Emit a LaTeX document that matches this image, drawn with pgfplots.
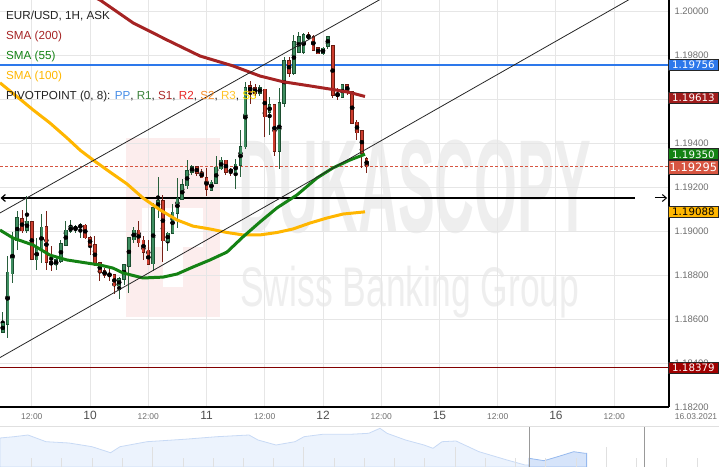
\documentclass[border=0pt]{standalone}
\usepackage{pgfplots}
\pgfplotsset{compat=1.18}
\usepackage{pgfplotstable}
\usepackage{fontspec}
\setmainfont{Liberation Sans}
\newfontfamily\dejavu{DejaVu Sans}
\usetikzlibrary{arrows.meta}

\definecolor{gfill}{RGB}{62,142,96}
\definecolor{gdark}{RGB}{28,78,48}
\definecolor{gwick}{RGB}{40,95,60}
\definecolor{rfill}{RGB}{205,60,45}
\definecolor{rdark}{RGB}{105,28,18}
\definecolor{rwick}{RGB}{120,32,22}
\definecolor{smaA}{RGB}{165,35,35}
\definecolor{smaB}{RGB}{20,130,20}
\definecolor{smaC}{RGB}{255,182,0}
\definecolor{gridc}{RGB}{230,230,230}
\definecolor{tickc}{RGB}{110,110,110}
\definecolor{dayc}{RGB}{80,80,80}
\definecolor{lvlblue}{RGB}{45,120,235}
\definecolor{lvlred}{RGB}{215,85,65}
\definecolor{lvldark}{RGB}{130,0,0}
\definecolor{wmpink}{RGB}{252,237,237}
\definecolor{wmgray}{RGB}{238,238,238}
\definecolor{navfill}{RGB}{236,243,253}
\definecolor{navline}{RGB}{200,218,245}
\definecolor{navwin}{RGB}{214,228,250}
\definecolor{navwinline}{RGB}{150,185,238}
\definecolor{ppc}{RGB}{70,140,230}
\definecolor{ronec}{RGB}{60,130,60}
\definecolor{sonec}{RGB}{170,40,40}
\definecolor{rtwoc}{RGB}{230,40,40}
\definecolor{stwoc}{RGB}{245,140,40}
\definecolor{rthreec}{RGB}{255,195,40}
\definecolor{sthreec}{RGB}{255,225,0}
\definecolor{lgblack}{RGB}{34,34,34}

% hourly candles, t = hours from 10 Mar 00:00
\pgfplotstableread{
t o hi lo c
-18 1.18540 1.18631 1.18537 1.18580
-17 1.18576 1.18887 1.18514 1.18813
-16 1.18808 1.18998 1.18766 1.18968
-15 1.18960 1.19094 1.18914 1.19059
-13 1.19005 1.19160 1.18991 1.19046
-11 1.18872 1.18968 1.18826 1.18920
-10 1.18917 1.19077 1.18854 1.19017
-7 1.18848 1.18884 1.18826 1.18869
-6 1.18866 1.18960 1.18854 1.18945
-5 1.18938 1.19048 1.18936 1.19005
-4 1.19000 1.19051 1.18991 1.19020
-3 1.19010 1.19028 1.18991 1.19020
-2 1.19016 1.19040 1.18968 1.19028
6 1.18752 1.18793 1.18691 1.18782
7 1.18782 1.18854 1.18755 1.18849
8 1.18843 1.18975 1.18720 1.18971
9 1.18963 1.19020 1.18945 1.19005
13 1.18854 1.19128 1.18819 1.19109
14 1.19107 1.19249 1.19059 1.19139
16 1.18957 1.18998 1.18911 1.18991
17 1.18991 1.19123 1.18988 1.19086
18 1.19082 1.19241 1.19017 1.19149
19 1.19146 1.19237 1.19142 1.19211
20 1.19207 1.19324 1.19195 1.19274
21 1.19268 1.19301 1.19256 1.19294
25 1.19188 1.19234 1.19184 1.19223
26 1.19218 1.19343 1.19215 1.19291
27 1.19286 1.19337 1.19278 1.19324
30 1.19271 1.19328 1.19192 1.19305
31 1.19301 1.19461 1.19248 1.19384
32 1.19384 1.19680 1.19374 1.19651
35 1.19629 1.19666 1.19615 1.19652
37 1.19541 1.19612 1.19437 1.19574
39 1.19365 1.19651 1.19283 1.19586
40 1.19583 1.19794 1.19567 1.19775
42 1.19719 1.19893 1.19711 1.19863
43 1.19817 1.19908 1.19809 1.19886
44 1.19814 1.19905 1.19809 1.19893
48 1.19809 1.19840 1.19805 1.19832
49 1.19844 1.19886 1.19829 1.19886
52 1.19612 1.19669 1.19607 1.19666
}\candUp

\pgfplotstableread{
t o hi lo c
-14 1.19059 1.19097 1.18991 1.19005
-12 1.19043 1.19043 1.18869 1.18872
-9 1.19020 1.19092 1.18826 1.18859
-8 1.18860 1.18933 1.18820 1.18848
-1 1.19028 1.19033 1.18966 1.18972
0 1.18972 1.18978 1.18891 1.18936
1 1.18938 1.18978 1.18842 1.18849
2 1.18857 1.18861 1.18775 1.18813
3 1.18819 1.18831 1.18786 1.18800
4 1.18808 1.18828 1.18774 1.18796
5 1.18800 1.18804 1.18714 1.18752
10 1.19005 1.19048 1.18929 1.18948
11 1.18960 1.18978 1.18869 1.18906
12 1.18914 1.18960 1.18846 1.18851
15 1.19139 1.19165 1.18861 1.18957
22 1.19294 1.19297 1.19251 1.19263
23 1.19268 1.19283 1.19243 1.19245
24 1.19245 1.19289 1.19160 1.19191
28 1.19324 1.19324 1.19256 1.19271
29 1.19282 1.19291 1.19252 1.19268
33 1.19661 1.19683 1.19579 1.19634
34 1.19652 1.19669 1.19606 1.19629
36 1.19646 1.19646 1.19429 1.19521
38 1.19574 1.19574 1.19342 1.19365
41 1.19775 1.19794 1.19703 1.19719
45 1.19893 1.19905 1.19870 1.19878
46 1.19886 1.19893 1.19825 1.19825
47 1.19835 1.19835 1.19805 1.19809
50 1.19844 1.19847 1.19607 1.19620
51 1.19628 1.19651 1.19597 1.19612
53 1.19666 1.19669 1.19620 1.19635
54 1.19635 1.19635 1.19486 1.19491
55 1.19496 1.19506 1.19415 1.19450
56 1.19456 1.19456 1.19286 1.19354
57 1.19331 1.19339 1.19263 1.19295
}\candDown

\pgfplotsset{
  wick/.style={only marks, mark=none,
    error bars/.cd, y dir=both, y explicit, error mark=none,
    error bar style={line width=1bp, draw=#1}},
  bodyout/.style={only marks, mark=none,
    error bars/.cd, y dir=both, y explicit, error mark=none,
    error bar style={line width=3.6bp, draw=#1}},
  bodyin/.style={only marks, mark=none,
    error bars/.cd, y dir=both, y explicit, error mark=none,
    error bar style={line width=2.0bp, draw=#1}},
}

\begin{document}
\begin{tikzpicture}[x=1bp,y=1bp]
\useasboundingbox (0,0) rectangle (719,467);

% watermark (behind the grid)
\fill[wmpink] (126,150) rectangle (220,329);
\fill[white] (142,220) rectangle (203,259);
\fill[white] (163,180) rectangle (183,220);
\node[text=wmgray, font=\bfseries\fontsize{133}{133}\selectfont, xscale=0.416, inner sep=0pt] at (415,280) {DUKASCOPY};
\node[text=wmgray, font=\fontsize{56}{56}\selectfont, xscale=0.636, anchor=base west, inner sep=0pt] at (240,160) {Swiss Banking Group};

\begin{axis}[
  at={(0bp,60bp)}, anchor=south west,
  scale only axis, width=669bp, height=407bp,
  xmin=-18.56, xmax=119.3, ymin=1.182, ymax=1.20052,
  axis x line*=bottom, axis y line*=right,
  axis line style={-, black, line width=1.2bp},
  xtick={-12,0,12,24,36,48,60,72,84,96,108},
  xticklabels={12:00,{\fontsize{12}{12}\selectfont\color{dayc}10},12:00,{\fontsize{12}{12}\selectfont\color{dayc}11},12:00,{\fontsize{12}{12}\selectfont\color{dayc}12},12:00,{\fontsize{12}{12}\selectfont\color{dayc}15},12:00,{\fontsize{12}{12}\selectfont\color{dayc}16},12:00},
  ytick={1.182,1.184,1.186,1.188,1.19,1.192,1.194,1.196,1.198,1.2},
  yticklabels={1.18200,1.18400,1.18600,1.18800,1.19000,1.19200,1.19400,1.19600,1.19800,1.20000},
  major tick length=0pt,
  grid=major, grid style={gridc, line width=0.9bp},
  xticklabel style={anchor=base, yshift=-13bp, font=\fontsize{8.5}{9}\selectfont, text=tickc},
  yticklabel style={anchor=west, xshift=2bp, font=\fontsize{9.5}{10}\selectfont, text=tickc},
  clip mode=individual,
]
% level lines
\addplot[draw=lvlblue, line width=1.1bp] coordinates {(-18.56,1.19756) (119.3,1.19756)};
\addplot[draw=lvldark, line width=1bp] coordinates {(-18.56,1.18379) (119.3,1.18379)};
\addplot[draw=lvlred, line width=0.8bp, dash pattern=on 3bp off 2bp] coordinates {(-18.56,1.19295) (119.3,1.19295)};
\addplot[draw=black, line width=1.2bp, {Straight Barb[length=4bp,width=7bp]}-] coordinates {(-18.45,1.19151) (112.3,1.19151)};
\addplot[draw=black, line width=1bp, -{Straight Barb[length=4bp,width=7bp]}] coordinates {(116.4,1.19151) (118.9,1.19151)};

% candles: wicks
\addplot[wick=gwick] table[x=t, y expr={(\thisrow{hi}+\thisrow{lo})/2}, y error expr={(\thisrow{hi}-\thisrow{lo})/2}] {\candUp};
\addplot[wick=rwick] table[x=t, y expr={(\thisrow{hi}+\thisrow{lo})/2}, y error expr={(\thisrow{hi}-\thisrow{lo})/2}] {\candDown};
% bodies: outline
\addplot[bodyout=gdark] table[x=t, y expr={(\thisrow{o}+\thisrow{c})/2}, y error expr={abs(\thisrow{c}-\thisrow{o})/2+0.00003}] {\candUp};
\addplot[bodyout=rdark] table[x=t, y expr={(\thisrow{o}+\thisrow{c})/2}, y error expr={abs(\thisrow{c}-\thisrow{o})/2+0.00003}] {\candDown};
% bodies: fill
\addplot[bodyin=gfill] table[x=t, y expr={(\thisrow{o}+\thisrow{c})/2}, y error expr={abs(\thisrow{c}-\thisrow{o})/2}] {\candUp};
\addplot[bodyin=rfill] table[x=t, y expr={(\thisrow{o}+\thisrow{c})/2}, y error expr={abs(\thisrow{c}-\thisrow{o})/2}] {\candDown};

% SMA 200
\addplot[draw=smaA, line width=3bp, line join=round] coordinates {(-1.04,1.20084) (2.05,1.20052) (8.85,1.19948) (15.86,1.19870) (22.66,1.19797) (29.46,1.19752) (35.02,1.19706) (39.76,1.19680) (45.32,1.19661) (50.47,1.19643) (53.56,1.19631) (56.65,1.19613)};
% SMA 100
\addplot[draw=smaC, line width=3bp, line join=round] coordinates {(-18.56,1.19675) (-14.43,1.19601) (-11.75,1.19552) (-8.25,1.19492) (-4.74,1.19424) (-2.07,1.19369) (0.61,1.19324) (4.11,1.19269) (7.61,1.19215) (10.91,1.19151) (14.41,1.19097) (17.92,1.19051) (21.21,1.19023) (24.71,1.19010) (28.22,1.18994) (31.51,1.18983) (35.02,1.18983) (38.52,1.18994) (41.82,1.19010) (45.32,1.19037) (48.82,1.19060) (52.12,1.19078) (56.65,1.19088)};
% SMA 55
\addplot[draw=smaB, line width=3bp, line join=round] coordinates {(-18.56,1.19005) (-15.88,1.18969) (-11.75,1.18937) (-8.25,1.18891) (-4.74,1.18869) (-0.63,1.18855) (2.05,1.18846) (4.73,1.18832) (6.79,1.18810) (10.91,1.18787) (15.03,1.18791) (17.92,1.18805) (21.21,1.18837) (24.71,1.18869) (28.22,1.18905) (31.51,1.18974) (35.02,1.19042) (38.52,1.19106) (42.64,1.19165) (46.76,1.19242) (50.06,1.19288) (53.56,1.19324) (56.65,1.19350)};

% channel lines
\addplot[draw=black!85, line width=0.8bp] coordinates {(-18.56,1.19083) (62,1.20082)};
\addplot[draw=black!85, line width=0.8bp] coordinates {(-18.56,1.18425) (113,1.20078)};
\end{axis}

% navigator
\begin{axis}[
  at={(0bp,0bp)}, anchor=south west,
  scale only axis, width=719bp, height=40bp,
  xmin=0, xmax=719, ymin=0, ymax=40,
  hide axis,
]
\addplot[fill=navfill, draw=navline, line width=0.8bp] coordinates {(0,29) (14,30.3) (28,32) (46,25.3) (69,24) (92,20.3) (110.6,14.3) (120,20.3) (147,25.3) (184,27.7) (217,30.3) (249,32) (258,27) (276,22) (295,25.3) (304,30.3) (322.6,32.7) (350,32.7) (368.7,33.7) (380,38.7) (387,33.7) (405.5,27) (424,22) (433,18.7) (442,25.3) (456,26) (479,15.3) (507,7) (525,2) (529,2)} \closedcycle;
\addplot[fill=navwin, draw=navwinline, line width=0.8bp] coordinates {(529,8.7) (544,6.3) (557.6,10.3) (573.7,15.3) (585,13.7) (586.6,13.7)} \closedcycle;
\addplot[ycomb, mark=none, draw=black!12, line width=0.8bp] coordinates {(31.3,9) (61.3,9) (92.2,9) (122.1,9) (183,9) (213.2,9) (243.4,9) (273.7,9) (334.1,9) (364.4,9) (394.6,9) (424.8,9) (485.3,9) (515.5,9) (545.8,9) (576,9) (636.5,9) (666.7,9) (697,9)};
\addplot[ycomb, mark=none, draw=black!12, line width=0.8bp] coordinates {(152.4,20.3) (303.7,20.3) (455,20.3) (606.3,20.3)};
\addplot[draw=black!12, line width=1bp] coordinates {(0,40) (719,40)};
\addplot[draw=black!40, line width=1bp] coordinates {(529,0) (529,40)};
\addplot[draw=black!40, line width=1bp] coordinates {(644,0) (644,40)};
\end{axis}

\node[anchor=base, inner sep=0pt, font=\fontsize{8.5}{9}\selectfont, text=tickc] at (696,47) {16.03.2021};

% price boxes on the right
\tikzset{pbox/.style={anchor=west, draw=black!85, line width=0.8bp, text=white, font=\dejavu\fontsize{10.3}{10.3}\selectfont, inner sep=0pt, minimum width=50bp, minimum height=11bp}}
\node[pbox, fill=lvlblue] at (668,401.9) {1.19756};
\node[pbox, fill={rgb,255:red,160;green,28;blue,28}] at (668,369.5) {1.19613};
\node[pbox, fill=smaB] at (668,312.7) {1.19350};
\node[pbox, fill=lvlred, minimum height=14bp, font=\dejavu\fontsize{11.5}{11.5}\selectfont] at (668,300) {1.19295};
\node[pbox, fill=smaC, text=black] at (668,255.1) {1.19088};
\node[pbox, fill={rgb,255:red,160;green,0;blue,0}] at (668,99.3) {1.18379};

% legend text, top left
\tikzset{lg/.style={anchor=base west, inner sep=0pt, font=\fontsize{11.7}{12}\selectfont}}
\node[lg, text=lgblack] at (6,447.1) {EUR/USD, 1H, ASK};
\node[lg, text=smaA] at (6,427.1) {SMA (200)};
\node[lg, text=smaB] at (6,407.1) {SMA (55)};
\node[lg, text=smaC] at (6,387.1) {SMA (100)};
\node[lg, text=lgblack] at (6,367.1) {PIVOTPOINT (0, 8): \textcolor{ppc}{PP}, \textcolor{ronec}{R1}, \textcolor{sonec}{S1}, \textcolor{rtwoc}{R2}, \textcolor{stwoc}{S2}, \textcolor{rthreec}{R3}, \textcolor{sthreec}{S3}};
\end{tikzpicture}
\end{document}
